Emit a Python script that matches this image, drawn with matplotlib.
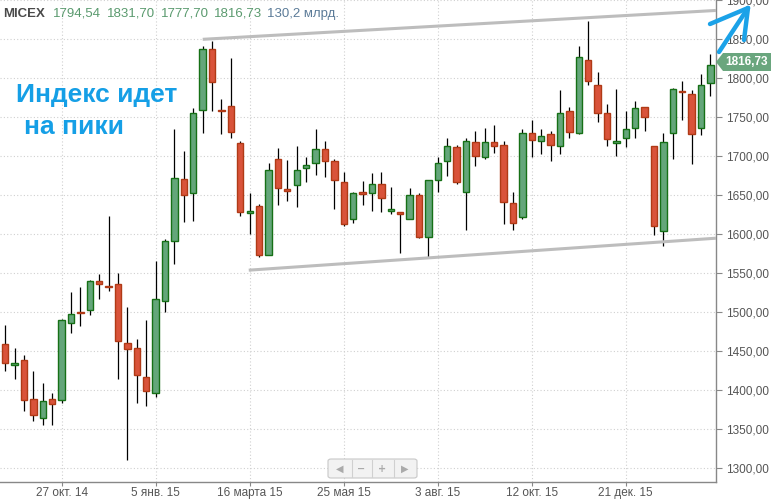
import numpy as np
import matplotlib
matplotlib.use("Agg")
import matplotlib.pyplot as plt
from matplotlib.patches import Polygon, FancyBboxPatch
from matplotlib.lines import Line2D
from matplotlib.ticker import FuncFormatter, MultipleLocator

plt.rcParams['font.family'] = ['Liberation Sans', 'DejaVu Sans']

# weekly MICEX candles, 15 Sep 2014 .. 22 Feb 2016
opens = [1459, 1433, 1439, 1389, 1364, 1389, 1387, 1486, 1501, 1503,
         1540, 1534, 1536, 1461, 1454, 1417, 1396, 1515, 1592, 1671,
         1653, 1759, 1838, 1760, 1764, 1717, 1627, 1636, 1574, 1696,
         1658, 1663, 1685, 1692, 1709, 1694, 1667, 1619, 1654, 1653,
         1665, 1630, 1628, 1620, 1651, 1597, 1669, 1694, 1712, 1654,
         1718, 1699, 1718, 1714, 1640, 1622, 1730, 1719, 1728, 1713,
         1758, 1730, 1823, 1792, 1756, 1717, 1723, 1736, 1763, 1713,
         1604, 1730, 1784, 1780, 1736, 1794.54]
highs = [1484, 1454, 1445, 1425, 1409, 1397, 1491, 1526, 1532, 1541,
         1549, 1624, 1551, 1507, 1466, 1490, 1566, 1594, 1735, 1707,
         1762, 1841, 1848, 1774, 1826, 1719, 1653, 1639, 1692, 1711,
         1695, 1713, 1699, 1735, 1720, 1696, 1680, 1654, 1668, 1678,
         1680, 1661, 1629, 1660, 1653, 1669, 1699, 1723, 1714, 1724,
         1733, 1736, 1740, 1719, 1654, 1735, 1746, 1735, 1733, 1785,
         1763, 1842, 1873, 1808, 1767, 1786, 1758, 1771, 1763, 1713,
         1730, 1787, 1796, 1785, 1806, 1831.70]
lows = [1425, 1414, 1374, 1361, 1356, 1356, 1384, 1473, 1483, 1496,
        1517, 1527, 1415, 1311, 1384, 1380, 1392, 1501, 1562, 1616,
        1617, 1730, 1758, 1728, 1724, 1623, 1601, 1571, 1573, 1637,
        1643, 1635, 1667, 1676, 1673, 1633, 1610, 1614, 1638, 1630,
        1628, 1626, 1576, 1619, 1595, 1571, 1654, 1675, 1664, 1605,
        1688, 1696, 1704, 1613, 1605, 1619, 1699, 1703, 1694, 1703,
        1724, 1728, 1792, 1744, 1713, 1700, 1712, 1724, 1733, 1599,
        1585, 1697, 1746, 1690, 1727, 1777.70]
closes = [1435, 1435, 1387, 1368, 1386, 1383, 1490, 1498, 1499, 1540,
          1536, 1532, 1463, 1453, 1420, 1399, 1517, 1592, 1672, 1650,
          1756, 1838, 1795, 1758, 1731, 1629, 1630, 1573, 1682, 1660,
          1656, 1683, 1689, 1709, 1694, 1669, 1613, 1653, 1652, 1664,
          1647, 1632, 1626, 1650, 1597, 1669, 1691, 1713, 1667, 1719,
          1701, 1718, 1713, 1642, 1614, 1730, 1721, 1726, 1714, 1755,
          1731, 1827, 1797, 1756, 1722, 1719, 1735, 1762, 1751, 1610,
          1718, 1786, 1782, 1728, 1791, 1816.73]

tick_idx = [6, 16, 26, 36, 46, 56, 66]
tick_labels = ["27 окт. 14", "5 янв. 15", "16 марта 15", "25 мая 15",
               "3 авг. 15", "12 окт. 15", "21 дек. 15"]

# hand drawn channel lines (candle index, price)
upper_x, upper_y = [21.0, 75.6], [1850, 1887]
lower_x, lower_y = [25.9, 75.6], [1554, 1595]

W, H = 771, 500
fig = plt.figure(figsize=(W / 100, H / 100), dpi=100)
fig.patch.set_facecolor('white')
ax = fig.add_axes([0, 1 - 481.7 / H, 716 / W, 481.7 / H])
ax.set_facecolor('white')

x = np.arange(len(opens))
o = np.array(opens, dtype=float)
c = np.array(closes, dtype=float)
up = c >= o

ax.vlines(x, lows, highs, color='black', lw=0.9, zorder=2)
body_h = np.maximum(np.abs(c - o), 1.2)
face = np.where(up, '#64a67a', '#d9533a')
edge = np.where(up, '#167016', '#b03a16')
ax.bar(x, body_h, bottom=np.minimum(o, c), width=0.68, color=face,
       edgecolor=edge, linewidth=1.0, zorder=3)

ax.plot(upper_x, upper_y, color='#bdbdbd', lw=2.2, solid_capstyle='butt', zorder=4)
ax.plot(lower_x, lower_y, color='#bdbdbd', lw=2.2, solid_capstyle='butt', zorder=4)

ax.set_xlim(-0.56, 75.6)
ax.set_ylim(1282.8, 1900.4)

ax.yaxis.tick_right()
ax.yaxis.set_major_locator(MultipleLocator(50))
ax.yaxis.set_major_formatter(FuncFormatter(lambda v, p: f"{v:.2f}".replace('.', ',')))
ax.set_xticks(tick_idx)
ax.set_xticklabels(tick_labels)
ax.tick_params(axis='both', colors='#888888', labelcolor='#555555', labelsize=8.5,
               width=0.8)
ax.tick_params(axis='y', length=4, pad=3)
ax.tick_params(axis='x', length=3, pad=1)

ax.grid(True, color='#d0d0d0', lw=0.8, linestyle=(0, (1, 2)))
ax.set_axisbelow(True)
for s in ['left', 'top']:
    ax.spines[s].set_visible(False)
for s in ['right', 'bottom']:
    ax.spines[s].set_color('#888888')
    ax.spines[s].set_linewidth(1.0)


def fx(px):
    return px / W


def fy(py):
    return 1 - py / H


# header
fig.text(fx(3), fy(17), "MICEX", fontsize=9.5, fontweight='bold', color='#4a4a4a')
for px, s in [(53, "1794,54"), (107, "1831,70"), (161, "1777,70"), (214, "1816,73")]:
    fig.text(fx(px), fy(17), s, fontsize=9.5, color='#5a9a6e')
fig.text(fx(267), fy(17), "130,2 млрд.", fontsize=9.5, color='#5b7b98')

# annotation
fig.text(fx(16), fy(102), "Индекс идет", fontsize=19, fontweight='bold', color='#159fe6')
fig.text(fx(24), fy(134), "на пики", fontsize=19, fontweight='bold', color='#159fe6')

# last price label
lab = [(716, 62), (723, 53), (771, 53), (771, 71), (723, 71)]
fig.patches.append(Polygon([(fx(a), fy(b)) for a, b in lab], closed=True,
                           transform=fig.transFigure, facecolor='#6aa67e',
                           edgecolor='none'))
fig.text(fx(747), fy(62), "1816,73", fontsize=8.5, fontweight='bold', color='white',
         ha='center', va='center')

# blue hand-drawn arrow
arrow = [[(719, 52), (748, 8)], [(710, 24), (748, 8)], [(748, 8), (744, 40)]]
for seg in arrow:
    fig.lines.append(Line2D([fx(p[0]) for p in seg], [fy(p[1]) for p in seg],
                            transform=fig.transFigure, color='#1ba2e8', lw=3.2,
                            solid_capstyle='round'))

# navigator buttons
fig.patches.append(FancyBboxPatch((fx(328), fy(478)), fx(417) - fx(328), fy(459) - fy(478),
                                  boxstyle='round,pad=0,rounding_size=0.004',
                                  transform=fig.transFigure, facecolor='#f2f2f2',
                                  edgecolor='#c8c8c8', lw=0.8))
for px in [351.5, 371.5, 393.5]:
    fig.lines.append(Line2D([fx(px), fx(px)], [fy(460), fy(477)], transform=fig.transFigure,
                            color='#d0d0d0', lw=0.8))
for px, s in [(340, "◀"), (361.5, "−"), (382.5, "+"), (405, "▶")]:
    fig.text(fx(px), fy(468.5), s, fontsize=7, color='#aaaaaa', ha='center', va='center',
             fontweight='bold', family='DejaVu Sans')

fig.savefig("out.png", dpi=100)
